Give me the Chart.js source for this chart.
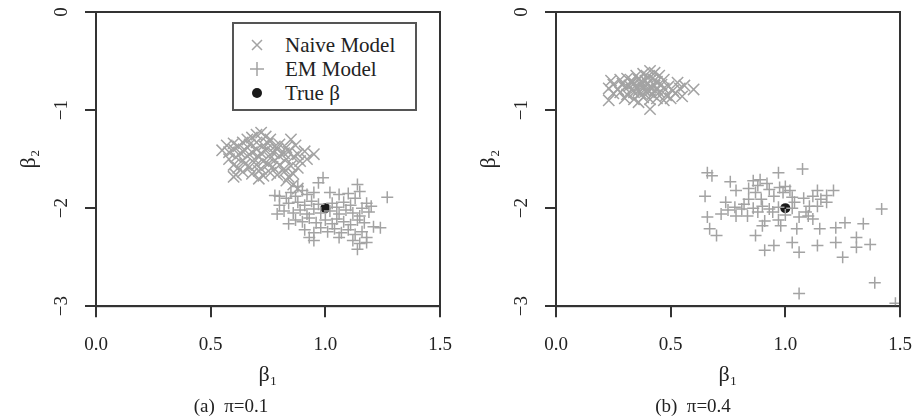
<!DOCTYPE html>
<html>
<head>
<meta charset="utf-8">
<script src="https://cdn.jsdelivr.net/npm/chart.js@4.4.1/dist/chart.umd.min.js"></script>
<style>
  html, body { margin: 0; padding: 0; background: #fff; }
  #wrap { position: relative; width: 914px; height: 419px; overflow: hidden; }
  canvas { position: absolute; top: 0; }
  #legend {
    position: absolute; left: 232px; top: 22px; width: 181px; height: 85px;
    border: 2px solid #555; background: #fff;
    font-family: "Liberation Serif", "DejaVu Serif", serif; font-size: 21px; color: #222;
  }
  .item { position: absolute; left: 0; height: 24px; line-height: 24px; white-space: nowrap; }
  .item svg { position: absolute; left: 16px; top: 5px; }
  .item span { position: absolute; left: 51px; top: 0; }
</style>
</head>
<body>
<div id="wrap">
  <canvas id="cA" width="460" height="419" style="left:0px"></canvas>
  <canvas id="cB" width="454" height="419" style="left:460px"></canvas>
  <div id="legend">
    <div class="item" style="top:9px">
      <svg width="14" height="14"><path d="M2 2 L12 12 M12 2 L2 12" stroke="#a3a3a3" stroke-width="1.5"/></svg>
      <span>Naive Model</span>
    </div>
    <div class="item" style="top:33px">
      <svg width="14" height="14"><path d="M7 0 L7 14 M0 7 L14 7" stroke="#a3a3a3" stroke-width="1.5"/></svg>
      <span>EM Model</span>
    </div>
    <div class="item" style="top:57px">
      <svg width="14" height="14"><circle cx="7" cy="7" r="5" fill="#1a1a1a"/></svg>
      <span>True β</span>
    </div>
  </div>
</div>
<script>
// ---------------- data ----------------
const xTicks = [0.0, 0.5, 1.0, 1.5];
const yTicks = [0, -1, -2, -3];
const trueBeta = [[1.0, -2.0]];
const captions = ["(a)  π=0.1", "(b)  π=0.4"];

// panel (a), pi = 0.1
const naiveA = [
  [0.70,-1.25],[0.72,-1.23],[0.74,-1.27],[0.68,-1.28],[0.66,-1.30],[0.76,-1.30],[0.85,-1.30],
  [0.57,-1.36],[0.60,-1.34],[0.62,-1.37],[0.64,-1.33],[0.67,-1.35],[0.70,-1.33],[0.73,-1.36],[0.75,-1.34],[0.78,-1.37],[0.80,-1.35],[0.83,-1.38],[0.87,-1.36],
  [0.55,-1.41],[0.58,-1.43],[0.60,-1.40],[0.63,-1.44],[0.65,-1.41],[0.68,-1.43],[0.70,-1.40],[0.72,-1.44],[0.74,-1.41],[0.77,-1.43],[0.79,-1.40],[0.82,-1.44],[0.84,-1.42],[0.88,-1.45],[0.91,-1.42],[0.95,-1.45],
  [0.58,-1.50],[0.61,-1.48],[0.64,-1.51],[0.66,-1.47],[0.69,-1.50],[0.71,-1.48],[0.73,-1.52],[0.76,-1.49],[0.78,-1.51],[0.80,-1.47],[0.83,-1.50],[0.86,-1.48],[0.89,-1.52],[0.92,-1.50],
  [0.60,-1.56],[0.62,-1.59],[0.65,-1.55],[0.67,-1.58],[0.70,-1.56],[0.72,-1.60],[0.75,-1.55],[0.77,-1.58],[0.80,-1.56],[0.82,-1.60],[0.85,-1.57],[0.88,-1.59],
  [0.61,-1.66],[0.64,-1.63],[0.68,-1.65],[0.71,-1.62],[0.73,-1.67],[0.76,-1.64],[0.79,-1.66],[0.82,-1.63],[0.84,-1.68],[0.86,-1.65],
  [0.60,-1.68],[0.71,-1.70],[0.83,-1.72],[0.86,-1.76],[0.88,-1.80]
];
const emA = [
  [0.99,-1.69],[0.97,-1.74],[1.14,-1.76],[1.27,-1.89],[0.88,-1.78],[0.90,-1.82],[0.85,-1.84],[0.80,-1.88],[0.78,-1.87],[0.83,-1.90],[0.87,-1.88],[0.92,-1.86],[0.95,-1.84],[1.02,-1.84],[1.06,-1.86],[1.10,-1.85],[1.15,-1.83],[1.13,-1.90],[1.18,-1.95],[1.20,-1.98],
  [0.80,-1.97],[0.84,-1.95],[0.88,-1.94],[0.91,-1.97],[0.94,-1.93],[0.97,-1.96],[1.03,-1.95],[1.05,-1.99],[1.08,-1.94],[1.11,-1.97],[1.16,-2.00],
  [0.79,-2.06],[0.82,-2.03],[0.86,-2.05],[0.89,-2.02],[0.92,-2.06],[0.95,-2.01],[0.98,-2.05],[1.02,-2.03],[1.06,-2.06],[1.09,-2.02],[1.12,-2.05],[1.15,-2.08],[1.19,-2.04],
  [0.84,-2.16],[0.87,-2.12],[0.90,-2.14],[0.93,-2.10],[0.96,-2.15],[1.00,-2.12],[1.03,-2.16],[1.05,-2.11],[1.08,-2.14],[1.11,-2.17],[1.14,-2.12],[1.17,-2.15],[1.21,-2.19],[1.24,-2.20],
  [0.91,-2.22],[0.95,-2.25],[0.98,-2.20],[1.01,-2.24],[1.04,-2.21],[1.07,-2.25],[1.10,-2.22],[1.13,-2.27],[1.16,-2.24],[1.18,-2.30],
  [0.93,-2.30],[0.95,-2.33],[1.06,-2.30],[1.12,-2.33],[1.15,-2.36],[1.18,-2.35],[1.14,-2.42]
];

// panel (b), pi = 0.4
const naiveB = [
  [0.41,-0.60],[0.38,-0.63],[0.43,-0.62],[0.35,-0.65],[0.40,-0.66],[0.45,-0.65],
  [0.24,-0.70],[0.28,-0.69],[0.31,-0.68],[0.33,-0.70],[0.36,-0.69],[0.39,-0.70],[0.42,-0.68],[0.44,-0.71],[0.47,-0.69],[0.53,-0.72],
  [0.25,-0.74],[0.29,-0.73],[0.32,-0.75],[0.34,-0.73],[0.37,-0.74],[0.40,-0.73],[0.43,-0.75],[0.46,-0.74],[0.49,-0.76],[0.56,-0.75],[0.60,-0.79],
  [0.23,-0.78],[0.27,-0.79],[0.30,-0.77],[0.33,-0.79],[0.35,-0.77],[0.38,-0.78],[0.41,-0.77],[0.44,-0.79],[0.47,-0.78],[0.51,-0.80],[0.54,-0.78],
  [0.25,-0.83],[0.28,-0.82],[0.31,-0.84],[0.34,-0.82],[0.37,-0.83],[0.39,-0.81],[0.42,-0.84],[0.45,-0.82],[0.48,-0.85],[0.52,-0.83],[0.55,-0.86],
  [0.23,-0.90],[0.30,-0.88],[0.34,-0.89],[0.38,-0.87],[0.41,-0.89],[0.44,-0.88],[0.47,-0.90],[0.50,-0.88],
  [0.36,-0.92],[0.41,-0.99],[0.33,-0.72],[0.37,-0.71],[0.40,-0.80],[0.36,-0.80],[0.43,-0.80],[0.39,-0.75]
];
const emB = [
  [0.66,-1.64],[0.68,-1.67],[1.075,-1.60],[0.97,-1.64],[0.65,-1.88],[0.76,-1.73],[0.785,-1.82],[0.74,-1.94],[0.66,-2.09],[0.67,-2.21],
  [0.70,-2.28],[0.87,-2.28],[0.91,-2.43],[0.95,-2.38],[1.06,-2.45],[1.03,-2.35],[1.14,-2.38],[1.15,-2.21],[1.22,-2.35],[1.25,-2.50],
  [1.31,-2.40],[1.31,-2.30],[1.37,-2.37],[1.34,-2.16],[1.26,-2.15],[1.22,-2.20],[1.42,-2.01],[1.39,-2.76],[1.06,-2.87],[1.48,-2.97],
  [1.21,-1.82],[1.14,-1.82],[1.18,-1.94],[1.155,-1.91],[0.98,-2.18],[1.05,-2.21],[0.97,-1.99],[0.975,-1.79],[0.89,-1.71],[0.86,-1.72],
  [0.84,-1.91],[0.81,-2.01],[0.785,-2.08],[0.835,-2.08],[0.91,-2.13],[0.90,-2.18],[0.945,-2.04],[1.09,-2.04],[1.12,-2.11],[1.06,-2.09],
  [1.03,-1.89],[1.02,-1.82],[0.99,-1.84],[0.93,-1.81],[0.895,-1.91],[0.87,-1.84],[1.105,-1.98],[1.14,-1.98],[1.18,-1.87],
  [0.88,-1.77],[0.92,-1.75],[0.95,-1.88],[1.00,-1.78],[1.04,-1.94],[1.08,-1.90],[0.90,-1.98],[0.86,-2.00],[0.82,-1.96],[0.78,-1.99],
  [0.72,-2.06],[0.75,-2.02],[1.00,-2.07],[1.03,-2.00],[0.93,-2.01],[0.97,-2.12],[1.10,-2.08],[0.88,-2.04],[1.12,-1.88],[0.84,-1.80]
];

// ---------------- chart ----------------
const FONT = "'Liberation Serif', 'DejaVu Serif', serif";
const GREY = '#a3a3a3';
const AXIS = '#333333';
const TXT = '#222222';
const toXY = arr => arr.map(p => ({x: p[0], y: p[1]}));
const zeroPad = s => { s.paddingTop = 0; s.paddingBottom = 0; s.paddingLeft = 0; s.paddingRight = 0; };

const framePlugin = {
  id: 'frame',
  afterDatasetsDraw(chart) {
    const a = chart.chartArea, ctx = chart.ctx;
    ctx.save();
    ctx.strokeStyle = AXIS;
    ctx.lineWidth = 2;
    ctx.strokeRect(a.left, a.top, a.right - a.left, a.bottom - a.top);
    ctx.restore();
  }
};

// centre the caption under the panel as in the original figure
const captionPlugin = {
  id: 'captionPos',
  afterLayout(chart, args, opts) {
    const t = chart.titleBlock;
    if (t && opts.center) { t.left = opts.center - 110; t.right = opts.center + 110; }
  }
};

function makeChart(id, naive, em, caption, rightPad, captionCenter) {
  return new Chart(document.getElementById(id), {
    type: 'scatter',
    data: {
      datasets: [
        { label: 'Naive Model', data: toXY(naive), pointStyle: 'crossRot', pointRadius: 8,
          borderColor: GREY, backgroundColor: GREY, pointBorderWidth: 1.5, pointHoverRadius: 8 },
        { label: 'EM Model', data: toXY(em), pointStyle: 'cross', pointRadius: 6,
          borderColor: GREY, backgroundColor: GREY, pointBorderWidth: 1.5, pointHoverRadius: 6 },
        { label: 'True β', data: toXY(trueBeta), pointStyle: 'circle', pointRadius: 5,
          borderColor: '#1a1a1a', backgroundColor: '#1a1a1a', pointBorderWidth: 0 }
      ]
    },
    options: {
      responsive: false,
      animation: false,
      devicePixelRatio: 1,
      layout: { padding: { top: 12, right: rightPad, left: 0, bottom: 0 } },
      plugins: {
        legend: { display: false },
        tooltip: { enabled: false },
        captionPos: { center: captionCenter },
        title: {
          display: true, position: 'bottom', text: caption, color: TXT,
          font: { family: FONT, size: 19, weight: 'normal' },
          padding: { top: 1, bottom: 1 }
        }
      },
      scales: {
        x: {
          type: 'linear', min: xTicks[0], max: xTicks[xTicks.length - 1],
          afterBuildTicks: s => { s.ticks = xTicks.map(v => ({value: v})); },
          afterFit: s => { s.height = 88; zeroPad(s); },
          ticks: { callback: v => Number(v).toFixed(1), color: TXT, padding: 16,
                   maxRotation: 0, minRotation: 0, font: { family: FONT, size: 19 } },
          grid: { drawOnChartArea: false, drawTicks: true, tickLength: 11, color: AXIS, lineWidth: 2 },
          border: { display: true, color: AXIS, width: 2 },
          title: { display: true, text: 'β₁', color: TXT, font: { family: FONT, size: 22 },
                   padding: { top: 0, bottom: 6 } }
        },
        y: {
          type: 'linear', min: yTicks[yTicks.length - 1], max: yTicks[0],
          afterBuildTicks: s => { s.ticks = yTicks.slice().reverse().map(v => ({value: v})); },
          afterFit: s => { s.width = 96; zeroPad(s); },
          ticks: { callback: v => (v < 0 ? '\u2212' + Math.abs(v) : String(v)), color: TXT, padding: 13,
                   minRotation: 90, maxRotation: 90, crossAlign: 'center',
                   font: { family: FONT, size: 19 } },
          grid: { drawOnChartArea: false, drawTicks: true, tickLength: 11, color: AXIS, lineWidth: 2 },
          border: { display: true, color: AXIS, width: 2 },
          title: { display: true, text: 'β₂', color: TXT, font: { family: FONT, size: 22 },
                   padding: { top: 16, bottom: 0 } }
        }
      }
    },
    plugins: [framePlugin, captionPlugin]
  });
}

makeChart('cA', naiveA, emA, captions[0], 20, 231);
makeChart('cB', naiveB, emB, captions[1], 14, 233);
</script>
</body>
</html>
